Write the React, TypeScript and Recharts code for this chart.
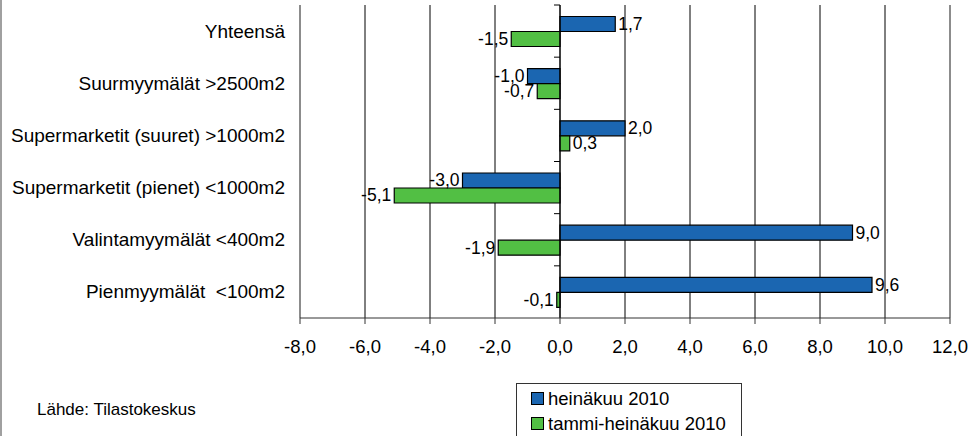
import React from "react";
import {
  BarChart,
  Bar,
  XAxis,
  YAxis,
  CartesianGrid,
  ReferenceLine,
  LabelList,
} from "recharts";

const CATEGORIES = [
  "Yhteensä",
  "Suurmyymälät >2500m2",
  "Supermarketit (suuret) >1000m2",
  "Supermarketit (pienet) <1000m2",
  "Valintamyymälät <400m2",
  "Pienmyymälät  <100m2",
];

const HEINAKUU = [1.7, -1.0, 2.0, -3.0, 9.0, 9.6];
const TAMMI_HEINAKUU = [-1.5, -0.7, 0.3, -5.1, -1.9, -0.1];

const X_TICKS = [-8, -6, -4, -2, 0, 2, 4, 6, 8, 10, 12];

const SERIES = [
  { key: "heina", name: "heinäkuu 2010", color: "#1B66B1" },
  { key: "tammi", name: "tammi-heinäkuu 2010", color: "#52BF44" },
];

const FONT = "'Liberation Sans', Arial, sans-serif";

const data = CATEGORIES.map((name, i) => ({
  name,
  heina: HEINAKUU[i],
  tammi: TAMMI_HEINAKUU[i],
}));

const fmt = (v: number) => v.toFixed(1).replace(".", ",");

// value label: right of positive bars, left of negative ones
const BarValue = (props: any) => {
  const { x, y, width, height, value } = props;
  const a = Number(x);
  const b = Number(x) + Number(width);
  const pos = value >= 0;
  const end = pos ? Math.max(a, b) : Math.min(a, b);
  return (
    <text
      x={pos ? end + 3 : end - 3}
      y={Number(y) + Number(height) / 2}
      dominantBaseline="central"
      textAnchor={pos ? "start" : "end"}
      fontSize={17.5}
      fontFamily={FONT}
      fill="#000"
    >
      {fmt(value)}
    </text>
  );
};

// zero axis with small marks between categories
const ZeroAxis = (props: any) => {
  const { x1, y1, y2 } = props;
  const n = CATEGORIES.length;
  const step = (y2 - y1) / n;
  return (
    <g>
      <line x1={x1} x2={x1} y1={y1} y2={y2} stroke="#000" strokeWidth={1} />
      {CATEGORIES.map((_, i) => (
        <line
          key={i}
          x1={x1 - 6}
          x2={x1}
          y1={y1 + step * (i + 1)}
          y2={y1 + step * (i + 1)}
          stroke="#000"
          strokeWidth={1}
        />
      ))}
    </g>
  );
};

const CategoryTick = (props: any) => {
  const { x, y, payload } = props;
  return (
    <text
      x={x}
      y={y}
      textAnchor="end"
      dominantBaseline="central"
      fontSize={19}
      fontFamily={FONT}
      fill="#000"
      style={{ whiteSpace: "pre" }}
    >
      {payload.value}
    </text>
  );
};

export default function App() {
  return (
    <div
      style={{
        position: "absolute",
        left: 0,
        top: 0,
        width: 973,
        height: 436,
        background: "#fff",
        overflow: "hidden",
        fontFamily: FONT,
      }}
    >
      <div
        style={{
          position: "absolute",
          left: 0,
          top: 0,
          width: 2,
          height: 436,
          background: "#a0a0a0",
        }}
      />
      <BarChart
        width={973}
        height={436}
        data={data}
        layout="vertical"
        margin={{ top: 5, right: 23, bottom: 88, left: 0 }}
        barCategoryGap="22%"
        barGap={0}
      >
        <CartesianGrid horizontal={false} stroke="#000" />
        <XAxis
          xAxisId="top"
          orientation="top"
          type="number"
          domain={[-8, 12]}
          ticks={X_TICKS}
          tick={false}
          tickLine={false}
          height={0}
          axisLine={{ stroke: "#999" }}
        />
        <XAxis
          type="number"
          domain={[-8, 12]}
          ticks={X_TICKS}
          interval={0}
          height={30}
          tickFormatter={fmt}
          axisLine={{ stroke: "#333" }}
          tickLine={{ stroke: "#333" }}
          tickSize={6}
          tickMargin={16}
          tick={{ fontSize: 18.5, fill: "#000", fontFamily: FONT }}
        />
        <YAxis
          type="category"
          dataKey="name"
          width={300}
          axisLine={false}
          tickLine={false}
          tickSize={0}
          tickMargin={15}
          interval={0}
          tick={CategoryTick}
        />
        <ReferenceLine x={-8} stroke="#999" />
        <ReferenceLine x={12} stroke="#999" />
        <ReferenceLine x={0} shape={ZeroAxis} />
        {SERIES.map((s) => (
          <Bar
            key={s.key}
            dataKey={s.key}
            name={s.name}
            fill={s.color}
            stroke="#000"
            strokeWidth={1.2}
            isAnimationActive={false}
          >
            <LabelList dataKey={s.key} content={BarValue} />
          </Bar>
        ))}
      </BarChart>
      <div
        style={{
          position: "absolute",
          left: 516,
          top: 383,
          border: "1px solid #333",
          width: 226,
          height: 56,
          boxSizing: "border-box",
          padding: "2px 0 0 14px",
          fontSize: 18.5,
          lineHeight: "25px",
          color: "#000",
          background: "#fff",
        }}
      >
        {SERIES.map((s) => (
          <div key={s.key} style={{ display: "flex", alignItems: "center" }}>
            <span
              style={{
                display: "inline-block",
                width: 11,
                height: 11,
                background: s.color,
                border: "1px solid #000",
                marginRight: 4,
              }}
            />
            {s.name}
          </div>
        ))}
      </div>
      <div
        style={{
          position: "absolute",
          left: 37,
          top: 400,
          fontSize: 17,
          color: "#000",
        }}
      >
        Lähde: Tilastokeskus
      </div>
    </div>
  );
}
